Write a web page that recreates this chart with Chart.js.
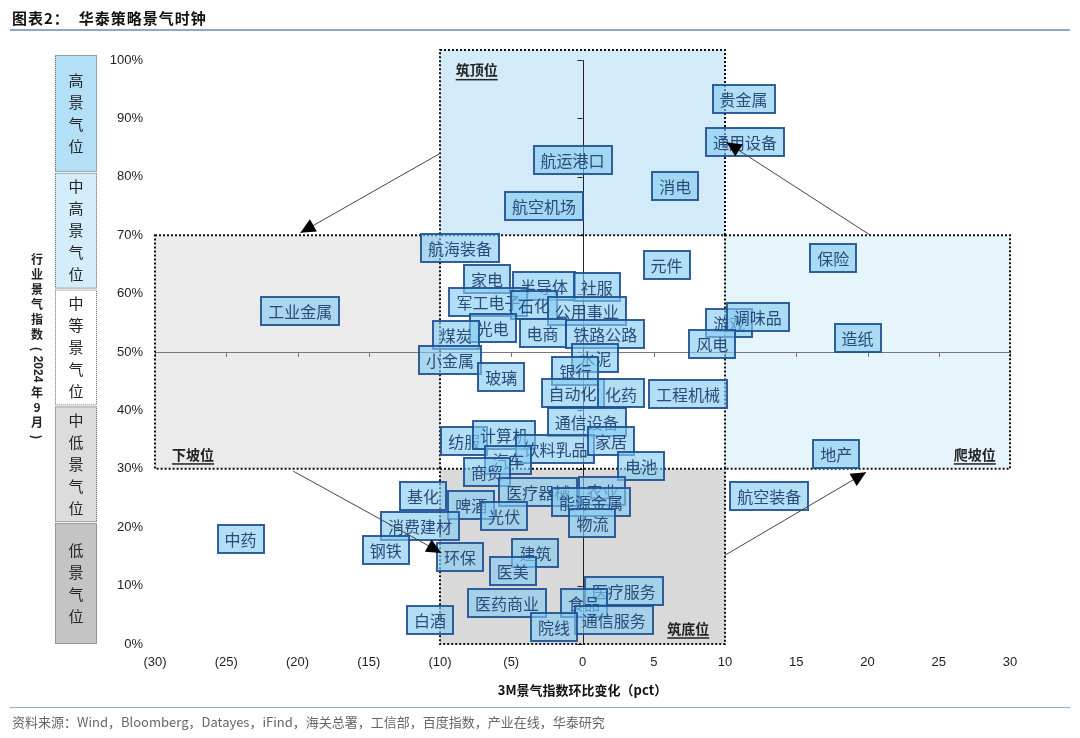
<!DOCTYPE html>
<html>
<head>
<meta charset="utf-8">
<script src="https://cdn.jsdelivr.net/npm/chart.js@4.4.1/dist/chart.umd.min.js"></script>
<style>
  html, body { margin: 0; padding: 0; background: #fff; }
  #wrap { position: relative; width: 1080px; height: 738px; overflow: hidden; }
  #clock { position: absolute; left: 0; top: 0; }
  .title { position: absolute; left: 12px; top: 7px; font: bold 15px "Noto Sans CJK SC", sans-serif; color: #111; letter-spacing: 1px; }
  .rule { position: absolute; left: 10px; right: 10px; height: 0; border-top: 2px solid #8ea8cc; }
  .source { position: absolute; left: 12px; top: 712px; font: 13px "Noto Sans CJK SC", "Liberation Sans", sans-serif; color: #666; }
</style>
</head>
<body>
<div id="wrap">
  <canvas id="clock" width="1080" height="738"></canvas>
  <div class="title">图表2：&nbsp;&nbsp;华泰策略景气时钟</div>
  <div class="rule" style="top:29px"></div>
  <div class="rule" style="top:707px;border-top-width:1.5px"></div>
  <div class="source">资料来源：Wind，Bloomberg，Datayes，iFind，海关总署，工信部，百度指数，产业在线，华泰研究</div>
</div>
<script>
// 行业名称
const industries = ['贵金属','通用设备','航运港口','消电','航空机场','航海装备','元件','保险','家电','半导体',
  '社服','军工电子','石化','公用事业','工业金属','光电','煤炭','电商','铁路公路','游戏',
  '调味品','造纸','风电','小金属','水泥','玻璃','银行','自动化','化药','工程机械',
  '通信设备','纺服','计算机','饮料乳品','家居','汽车','商贸','电池','医疗器械','农业',
  '能源金属','基化','啤酒','光伏','物流','消费建材','航空装备','地产','中药','钢铁',
  '环保','建筑','医美','医疗服务','医药商业','食品','通信服务','院线','白酒'];
// 3M景气指数环比变化 (pct)
const changePct = [11.3, 11.4, -0.7, 6.5, -2.7, -8.6, 5.9, 17.6, -6.7, -2.7,
  1.0, -6.6, -3.4, 0.3, -19.8, -6.3, -8.9, -2.8, 1.6, 10.3,
  12.3, 19.3, 9.1, -9.3, 0.9, -5.7, -0.5, -0.7, 2.7, 7.4,
  0.3, -8.3, -5.5, -1.9, 2.0, -5.2, -6.7, 4.1, -3.1, 1.4,
  0.6, -11.2, -7.8, -5.5, 0.7, -11.4, 13.1, 17.8, -24.0, -13.8,
  -8.6, -3.3, -4.9, 2.9, -5.3, 0.1, 2.2, -2.0, -10.7];
// 行业景气指数 (2024年9月, %)
const levelPct = [93.3, 86.0, 82.9, 78.5, 75.0, 67.8, 64.9, 66.1, 62.5, 61.3,
  61.1, 58.6, 58.0, 57.0, 57.0, 54.1, 52.9, 53.3, 53.1, 55.0,
  56.0, 52.4, 51.4, 48.6, 49.0, 45.7, 46.7, 43.0, 42.9, 42.8,
  38.0, 34.8, 35.8, 33.4, 34.8, 31.5, 29.5, 30.5, 26.0, 26.2,
  24.3, 25.3, 23.8, 21.9, 20.7, 20.2, 25.3, 32.5, 18.0, 16.1,
  14.9, 15.6, 12.5, 9.1, 7.0, 7.0, 4.1, 2.9, 4.1];

const xTicks = [-30, 30, 5];
const yTicks = [0, 100, 10];

// 景气档位 (左侧竖条)
const bandNames = ['高景气位', '中高景气位', '中等景气位', '中低景气位', '低景气位'];
const bandTop = [100, 80, 60, 40, 20];
const bandBottom = [80, 60, 40, 20, 0];

// 四个象限
const zones = [
  { name: '筑顶位', x0: -10, x1: 10, y0: 70, y1: 101.7, fill: '#d3ebf8', lx: -8.9, ly: 98.3, align: 'left' },
  { name: '下坡位', x0: -30, x1: -10, y0: 30, y1: 70, fill: '#ebebeb', lx: -28.8, ly: 32.5, align: 'left' },
  { name: '爬坡位', x0: 10, x1: 30, y0: 30, y1: 70, fill: '#e6f4fc', lx: 29.0, ly: 32.5, align: 'right' },
  { name: '筑底位', x0: -10, x1: 10, y0: 0, y1: 30, fill: '#d9d9d9', lx: 8.9, ly: 2.7, align: 'right' }
];
// 轮动箭头 [起点x, 起点y, 终点x, 终点y]
const arrows = [
  [-10, 84, -19.8, 70.4],
  [-20.3, 29.6, -9.9, 15.6],
  [10, 15.2, 19.9, 29.4],
  [20.2, 70, 10.1, 85.9]
];

const CJK = '"Noto Sans CJK SC", sans-serif';
Chart.defaults.font.family = '"Liberation Sans", Arial, sans-serif';
Chart.defaults.color = '#222';

function arrowHead(ctx, x1, y1, x2, y2) {
  const a = Math.atan2(y2 - y1, x2 - x1);
  const len = 15, half = 7;
  ctx.beginPath();
  ctx.moveTo(x2, y2);
  ctx.lineTo(x2 - len * Math.cos(a) + half * Math.sin(a), y2 - len * Math.sin(a) - half * Math.cos(a));
  ctx.lineTo(x2 - len * Math.cos(a) - half * Math.sin(a), y2 - len * Math.sin(a) + half * Math.cos(a));
  ctx.closePath();
  ctx.fill();
}

const clockPlugin = {
  id: 'clock',
  beforeDatasetsDraw(chart) {
    const { ctx, scales: { x, y } } = chart;
    const X = v => x.getPixelForValue(v), Y = v => y.getPixelForValue(v);
    ctx.save();
    zones.forEach(z => {
      ctx.fillStyle = z.fill;
      ctx.fillRect(X(z.x0), Y(z.y1), X(z.x1) - X(z.x0), Y(z.y0) - Y(z.y1));
    });
    // 中心坐标轴
    ctx.lineWidth = 1;
    ctx.strokeStyle = '#777';
    ctx.beginPath();
    ctx.moveTo(X(-30), Math.round(Y(50)) + 0.5);
    ctx.lineTo(X(30), Math.round(Y(50)) + 0.5);
    for (let v = -30; v <= 30; v += 5) {
      ctx.moveTo(Math.round(X(v)) + 0.5, Y(50));
      ctx.lineTo(Math.round(X(v)) + 0.5, Y(50) + 5);
    }
    ctx.stroke();
    ctx.strokeStyle = '#222';
    ctx.beginPath();
    ctx.moveTo(Math.round(X(0)) + 0.5, Y(0));
    ctx.lineTo(Math.round(X(0)) + 0.5, Y(100));
    for (let v = 0; v <= 100; v += 10) {
      ctx.moveTo(X(0) - 5, Math.round(Y(v)) + 0.5);
      ctx.lineTo(X(0), Math.round(Y(v)) + 0.5);
    }
    ctx.stroke();
    // 点线边框
    ctx.setLineDash([2, 2]);
    ctx.lineWidth = 2;
    ctx.strokeStyle = '#111';
    zones.forEach(z => {
      ctx.strokeRect(X(z.x0), Y(z.y1), X(z.x1) - X(z.x0), Y(z.y0) - Y(z.y1));
    });
    ctx.setLineDash([]);
    // 象限名称
    ctx.font = 'bold 14px ' + CJK;
    ctx.fillStyle = '#222';
    ctx.textBaseline = 'middle';
    zones.forEach(z => {
      ctx.textAlign = z.align;
      const px = X(z.lx), py = Y(z.ly);
      ctx.fillText(z.name, px, py);
      const w = ctx.measureText(z.name).width;
      const sx = z.align === 'left' ? px : px - w;
      ctx.fillRect(sx, py + 9, w, 1.5);
    });
    ctx.restore();
  },
  afterDatasetsDraw(chart) {
    const { ctx, scales: { x, y } } = chart;
    const X = v => x.getPixelForValue(v), Y = v => y.getPixelForValue(v);
    const meta = chart.getDatasetMeta(0);
    ctx.save();
    ctx.font = '16px ' + CJK;
    ctx.textAlign = 'center';
    ctx.textBaseline = 'middle';
    meta.data.forEach((pt, i) => {
      const label = industries[i];
      const w = Math.round(ctx.measureText(label).width + 14), h = 28;
      const l = Math.round(pt.x - w / 2), t = Math.round(pt.y - h / 2);
      ctx.fillStyle = 'rgba(132,203,240,0.62)';
      ctx.fillRect(l, t, w, h);
      ctx.lineWidth = 2;
      ctx.strokeStyle = 'rgba(30,80,145,0.9)';
      ctx.strokeRect(l, t, w, h);
      ctx.fillStyle = '#2a4a7a';
      ctx.fillText(label, pt.x, pt.y + 1);
    });
    // 箭头
    ctx.strokeStyle = '#444';
    ctx.fillStyle = '#000';
    ctx.lineWidth = 1;
    arrows.forEach(a => {
      const x1 = X(a[0]), y1 = Y(a[1]), x2 = X(a[2]), y2 = Y(a[3]);
      ctx.beginPath();
      ctx.moveTo(x1, y1);
      ctx.lineTo(x2, y2);
      ctx.stroke();
      arrowHead(ctx, x1, y1, x2, y2);
    });
    ctx.restore();
  },
  afterDraw(chart) {
    const { ctx, scales: { y } } = chart;
    const Y = v => y.getPixelForValue(v);
    const fills = ['#b3e0f6', '#d4edfa', '#ffffff', '#dcdcdc', '#c4c4c4'];
    ctx.save();
    bandNames.forEach((name, i) => {
      const t = Y(bandTop[i]) - 5 + (i ? 1 : 0);
      const b = i === bandNames.length - 1 ? Y(bandBottom[i]) : Y(bandBottom[i]) - 5;
      ctx.fillStyle = fills[i];
      ctx.fillRect(55, t, 42, b - t);
      ctx.setLineDash([1, 1]);
      ctx.strokeStyle = '#666';
      ctx.lineWidth = 1;
      ctx.strokeRect(55.5, t + 0.5, 41, b - t - 1);
      ctx.setLineDash([]);
      ctx.fillStyle = '#222';
      ctx.font = '15px ' + CJK;
      ctx.textAlign = 'center';
      ctx.textBaseline = 'middle';
      const chars = [...name], step = 22;
      const start = (t + b) / 2 - (chars.length - 1) * step / 2;
      chars.forEach((c, k) => ctx.fillText(c, 76, start + k * step));
    });
    // 纵轴标题 (竖排)
    const parts = ['行', '业', '景', '气', '指', '数', '（', '2024', '年', '9', '月', '）'];
    ctx.font = 'bold 12px ' + CJK;
    let cy = 252;
    parts.forEach(p => {
      if (p === '2024') {
        ctx.save();
        ctx.translate(37, cy + 14);
        ctx.rotate(Math.PI / 2);
        ctx.font = 'bold 12px "Liberation Sans", sans-serif';
        ctx.fillText(p, 0, 0);
        ctx.restore();
        cy += 30;
      } else if (p === '（' || p === '）') {
        ctx.save();
        ctx.translate(37, cy + 7);
        ctx.rotate(Math.PI / 2);
        ctx.fillText(p === '（' ? '(' : ')', 0, 0);
        ctx.restore();
        cy += 13;
      } else {
        ctx.fillText(p, 37, cy + 7);
        cy += 15;
      }
    });
    ctx.restore();
  }
};

new Chart(document.getElementById('clock'), {
  type: 'scatter',
  data: {
    datasets: [{
      data: industries.map((n, i) => ({ x: changePct[i], y: levelPct[i] })),
      pointRadius: 0,
      pointHoverRadius: 0
    }]
  },
  options: {
    responsive: false,
    animation: false,
    layout: { padding: { top: 60, right: 70, bottom: 40, left: 0 } },
    plugins: { legend: { display: false }, tooltip: { enabled: false } },
    scales: {
      x: {
        type: 'linear', min: xTicks[0], max: xTicks[1],
        grid: { display: false, drawTicks: false },
        border: { display: false },
        ticks: {
          stepSize: xTicks[2], padding: 11, maxRotation: 0, color: '#222', font: { size: 13 },
          callback: v => v < 0 ? '(' + (-v) + ')' : String(v)
        },
        title: {
          display: true, text: '3M景气指数环比变化（pct）', color: '#111',
          font: { size: 13, weight: 'bold', family: CJK }, padding: { top: 4, bottom: 0 }
        },
        afterFit: s => { s.height = 54; }
      },
      y: {
        min: yTicks[0], max: yTicks[1],
        grid: { display: false, drawTicks: false },
        border: { display: false },
        ticks: { stepSize: yTicks[2], padding: 12, color: '#222', font: { size: 13 }, callback: v => v + '%' },
        afterFit: s => { s.width = 155; }
      }
    }
  },
  plugins: [clockPlugin]
});
</script>
</body>
</html>
